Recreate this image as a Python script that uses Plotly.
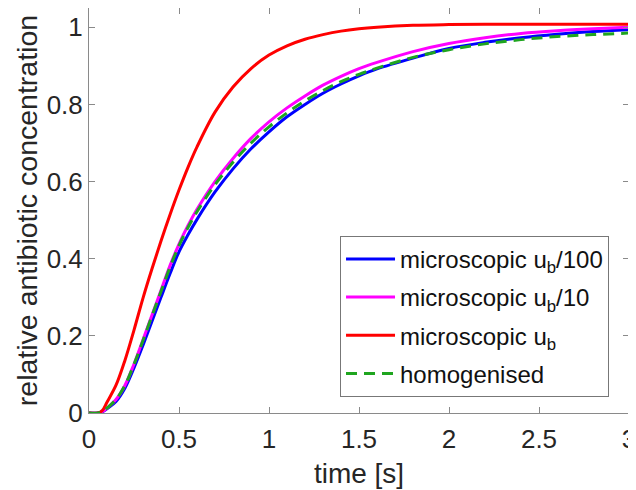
import plotly.graph_objects as go

t = [0, 0.05, 0.075, 0.1, 0.15, 0.2, 0.25, 0.3, 0.35, 0.4, 0.45, 0.5, 0.55, 0.6, 0.7, 0.8, 0.9,
     1.0, 1.1, 1.2, 1.3, 1.4, 1.5, 1.6, 1.8, 2.0, 2.2, 2.4, 2.6, 2.8, 3.0]

micro_100 = [0, 0, 0.003, 0.011, 0.03, 0.065, 0.117, 0.176, 0.238, 0.3, 0.361, 0.418, 0.462, 0.502,
             0.573, 0.633, 0.685, 0.729, 0.768, 0.8, 0.829, 0.853, 0.874, 0.892, 0.92, 0.945,
             0.961, 0.973, 0.982, 0.989, 0.994]
micro_10 = [0, 0, 0.004, 0.013, 0.035, 0.072, 0.127, 0.19, 0.254, 0.318, 0.382, 0.438, 0.486, 0.528,
            0.6, 0.66, 0.712, 0.755, 0.791, 0.822, 0.85, 0.873, 0.893, 0.909, 0.937, 0.958,
            0.973, 0.984, 0.991, 0.996, 1.0]
micro_1 = [0, 0, 0.007, 0.028, 0.072, 0.137, 0.215, 0.298, 0.374, 0.446, 0.514, 0.578, 0.637, 0.69,
           0.78, 0.845, 0.893, 0.928, 0.952, 0.969, 0.981, 0.99, 0.996, 1.0, 1.005, 1.007,
           1.008, 1.008, 1.008, 1.008, 1.008]
homog = [0, 0, 0.004, 0.013, 0.035, 0.072, 0.126, 0.188, 0.252, 0.315, 0.378, 0.434, 0.481, 0.522,
         0.592, 0.65, 0.7, 0.742, 0.778, 0.809, 0.836, 0.859, 0.878, 0.894, 0.922, 0.942,
         0.957, 0.968, 0.976, 0.981, 0.985]

x_ticks = [0, 0.5, 1, 1.5, 2, 2.5, 3]
x_labels = ["0", "0.5", "1", "1.5", "2", "2.5", "3"]
y_ticks = [0, 0.2, 0.4, 0.6, 0.8, 1]
y_labels = ["0", "0.2", "0.4", "0.6", "0.8", "1"]

FONT = "Liberation Sans, Arial, sans-serif"
TXT = "#262626"
AX = "#8a8a8a"

series = [
    ("microscopic u<sub>b</sub>/100", micro_100, "#0000FF", "solid"),
    ("microscopic u<sub>b</sub>/10", micro_10, "#FF00FF", "solid"),
    ("microscopic u<sub>b</sub>", micro_1, "#FF0000", "solid"),
    ("homogenised", homog, "#1FA51F", "11px,7px"),
]

fig = go.Figure()
for i, (name, ys, col, dash) in enumerate(series):
    fig.add_trace(go.Scatter(
        x=t, y=ys, mode="lines", name=name, legendgroup=str(i),
        line=dict(color=col, width=3, dash=dash, shape="spline", smoothing=1.0),
    ))

# the page body adds an 8px offset, so the figure is sized to fit the 636x490 window
fig.update_layout(
    width=628, height=482,
    margin=dict(l=81, r=7, t=0, b=77),
    paper_bgcolor="white", plot_bgcolor="white",
    font=dict(family=FONT, size=22, color=TXT),
    showlegend=True,
    legend=dict(
        x=0.963, xanchor="right", y=0.04, yanchor="bottom",
        bgcolor="white", bordercolor="#777", borderwidth=1,
        font=dict(family=FONT, size=24, color="#111"),
        traceorder="grouped", tracegroupgap=4,
        itemwidth=49,
    ),
)
fig.update_xaxes(
    range=[0, 3], tickvals=x_ticks, ticktext=x_labels, automargin=False,
    showline=True, linecolor=AX, linewidth=1, mirror="ticks",
    ticks="inside", ticklen=6, tickcolor=AX, showgrid=False, zeroline=False,
    tickfont=dict(size=26, color=TXT), ticklabelstandoff=3, ticklabeloverflow="allow",
    title=dict(text="time [s]", font=dict(size=28, color=TXT), standoff=10),
)
fig.update_yaxes(
    range=[0, 1.05], tickvals=y_ticks, ticktext=y_labels, automargin=False,
    showline=True, linecolor=AX, linewidth=1, mirror="ticks",
    ticks="inside", ticklen=6, tickcolor=AX, showgrid=False, zeroline=False,
    tickfont=dict(size=26, color=TXT), ticklabeloverflow="allow",
    title=dict(text="relative antibiotic concentration", font=dict(size=28.5, color=TXT), standoff=0),
)

fig.write_html("out.html")
